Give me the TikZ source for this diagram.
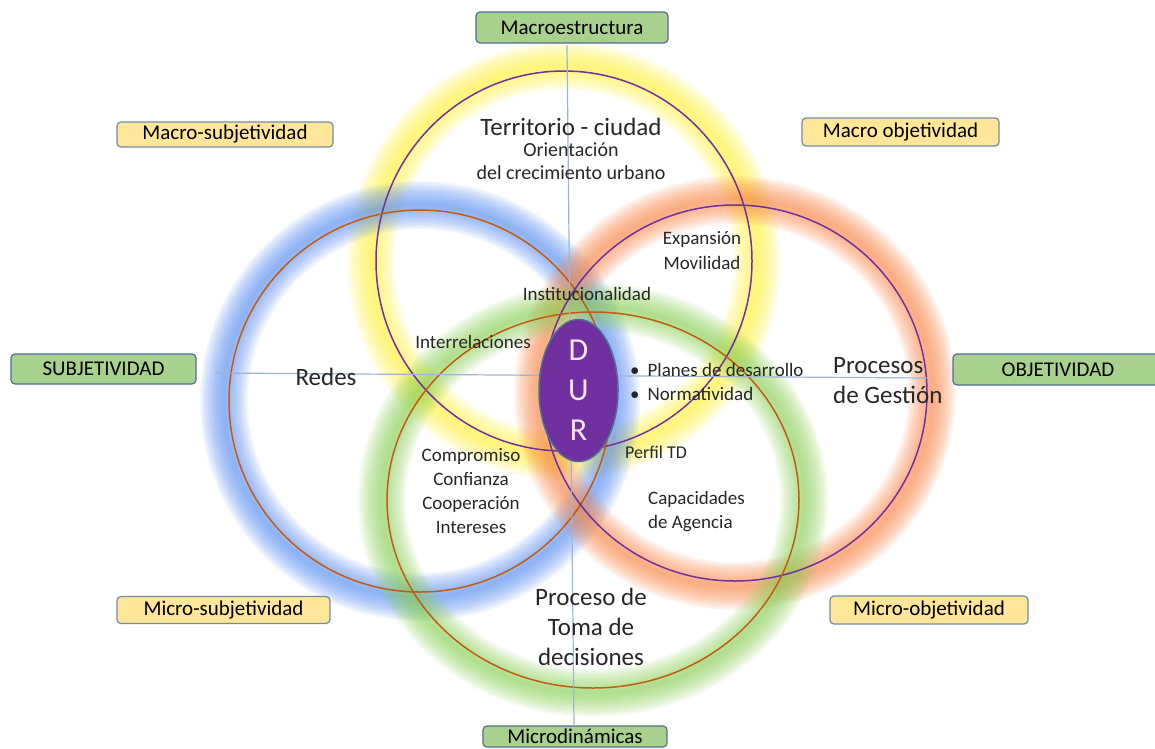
\documentclass[tikz,border=0pt]{standalone}
\usepackage{fontspec}
\setmainfont{Carlito}
\usetikzlibrary{shapes.geometric}

\definecolor{boxgreen}{HTML}{A9D18E}
\definecolor{boxyellow}{HTML}{FFE699}
\definecolor{boxline}{HTML}{4F6E91}
\definecolor{ringpurple}{HTML}{7030A0}
\definecolor{ringbrown}{HTML}{C55A11}
\definecolor{glowyellow}{HTML}{FFF040}
\definecolor{glowblue}{HTML}{5B8FF0}
\definecolor{gloworange}{HTML}{F7874A}
\definecolor{glowgreen}{HTML}{8CD05A}
\definecolor{axisblue}{HTML}{9DB4D6}

\tikzset{
  axisbox/.style={draw=boxline, fill=boxgreen, rounded corners=4pt, line width=1.2pt,
    font=\fontsize{21}{25}\selectfont, inner sep=0pt},
  quadbox/.style={draw=boxline!80, fill=boxyellow, rounded corners=4pt, line width=1.2pt,
    font=\fontsize{21}{25}\selectfont, inner sep=0pt},
  lbl/.style={font=\fontsize{19}{24}\selectfont, text=black!85, inner sep=0pt, align=center},
  bigl/.style={font=\fontsize{25}{30}\selectfont, text=black!85, inner sep=0pt, align=center},
  axisline/.style={draw=axisblue, line width=1.2pt},
}

% soft coloured halo round a ring
\newcommand\glowring[4]{%
  \foreach \w in {48,44,...,4}
    \draw[#4, line width=\w pt, opacity=0.09]
      #1 ellipse[x radius=#2pt+5pt, y radius=#3pt+5pt];
}

\begin{document}
\begin{tikzpicture}[x=1pt, y=-1pt]
\useasboundingbox (0,0) rectangle (1155,748);
\clip (0,0) rectangle (1155,748);

% halos
\glowring{(564,261)}{188}{190}{glowyellow}
\glowring{(420,401)}{191}{191}{glowblue}
\glowring{(735,393)}{192}{188}{gloworange}
\glowring{(593,500)}{206}{188}{glowgreen}

% rings
\draw[ringpurple, line width=1.5pt] (564,261) ellipse[x radius=188pt, y radius=190pt];
\draw[ringbrown, line width=1.5pt] (420,401) ellipse[x radius=191pt, y radius=191pt];
\draw[ringpurple, line width=1.5pt] (735,393) ellipse[x radius=192pt, y radius=188pt];
\draw[ringbrown, line width=1.5pt] (593,500) ellipse[x radius=206pt, y radius=188pt];

% axis boxes
\node[axisbox, minimum width=192pt, minimum height=31pt] (macro) at (572,27.5) {Macroestructura};
\node[axisbox, minimum width=185pt, minimum height=30pt] (subj) at (103.5,369) {SUBJETIVIDAD};
\node[axisbox, minimum width=210pt, minimum height=31pt] (obj) at (1058,369.5) {OBJETIVIDAD};
\node[axisbox, minimum width=184pt, minimum height=21pt] (micro) at (575,736.5) {Microdinámicas};

% quadrant boxes
\node[quadbox, minimum width=216pt, minimum height=25pt] (macsubj) at (225,134.5) {Macro-subjetividad};
\node[quadbox, minimum width=197pt, minimum height=28pt] (macobj) at (900.5,132) {Macro objetividad};
\node[quadbox, minimum width=213pt, minimum height=27pt] (micsubj) at (223.5,610) {Micro-subjetividad};
\node[quadbox, minimum width=198pt, minimum height=28pt] (micobj) at (929,610) {Micro-objetividad};

% axes
\coordinate (vt) at (567,45);
\coordinate (vb) at (574,726);
\coordinate (hl) at (215,373);
\coordinate (hr) at (928,378);
\draw[axisline] (vt) -- (vb);
\draw[axisline] (hl) -- (hr);

% centre
\node[ellipse, fill=ringpurple, draw=boxline, line width=1.5pt, minimum width=79pt,
  minimum height=127pt, inner sep=0pt, text=white!90!magenta, align=center,
  font=\fontsize{32}{40}\selectfont] (dur) at (578.5,390.5) {D\\U\\R};

% labels
\node[bigl] (terr) at (571,127) {Territorio - ciudad};
\node[lbl, font=\fontsize{20}{23}\selectfont] (orient) at (571,161) {Orientación\\del crecimiento urbano};
\node[lbl, font=\fontsize{19}{25}\selectfont] (expan) at (702,251) {Expansión\\Movilidad};
\node[lbl] (inst) at (587,294) {Institucionalidad};
\node[lbl] (inter) at (473,342) {Interrelaciones};
\node[bigl] (redes) at (326,377) {Redes};
\node[lbl, anchor=west, align=left] (planes) at (630,382) {•\hspace{8pt}Planes de desarrollo\\•\hspace{8pt}Normatividad};
\node[bigl, anchor=west, align=left] (proc) at (833,381) {Procesos\\de Gestión};
\node[lbl, font=\fontsize{18}{22}\selectfont] (perfil) at (656,452) {Perfil TD};
\node[lbl] (comp) at (471,491) {Compromiso\\Confianza\\Cooperación\\Intereses};
\node[lbl, anchor=west, align=left] (capac) at (648,512) {Capacidades\\de Agencia};
\node[bigl] (toma) at (591,627) {Proceso de\\Toma de\\decisiones};
\end{tikzpicture}
\end{document}
